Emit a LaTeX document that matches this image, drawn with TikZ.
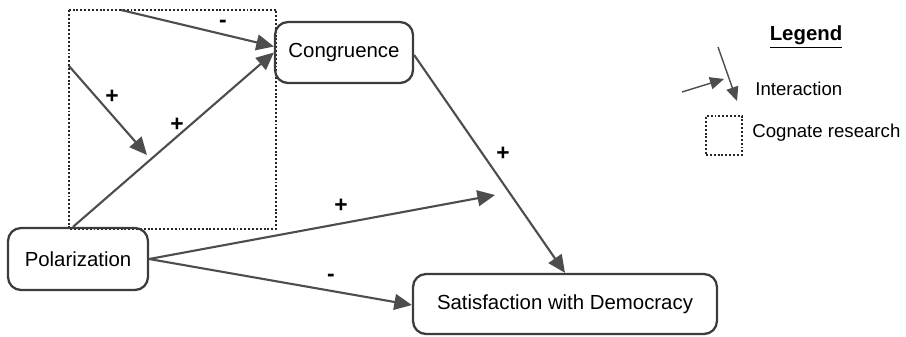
\documentclass[tikz,border=0pt]{standalone}
\usepackage{fontspec}
\setmainfont{Liberation Sans}
\usetikzlibrary{arrows.meta,positioning}
\definecolor{linegray}{HTML}{4D4D4D}
\definecolor{boxgray}{HTML}{3C3C3C}
\tikzset{
      concept/.style = { draw=boxgray, line width=1.3pt, rounded corners=2.6mm,
                         inner sep=0pt, font=\fontsize{11.6}{13}\selectfont },
         link/.style = { draw=linegray, line width=1.2pt,
                         -{Triangle[length=10pt,width=9pt]} },
     thinlink/.style = { draw=linegray, line width=0.8pt,
                         -{Triangle[length=8pt,width=7pt]} },
         sign/.style = { font=\bfseries\fontsize{13}{13}\selectfont, inner sep=0pt },
       cogbox/.style = { draw=black!85, line width=1.2pt, dash pattern=on 1.1pt off 1.1pt },
   legendtext/.style = { anchor=west, inner sep=0pt, font=\fontsize{10.6}{12}\selectfont }
}

\begin{document}
\begin{tikzpicture}[x=0.02cm, y=-0.02cm]
  \useasboundingbox (0,0) rectangle (906,336);

  % cognate research area
  \draw[cogbox] (69,10) rectangle (276,229);

  % concepts
  \node[concept, minimum width=2.76cm, minimum height=1.22cm] (cong) at(344,52.5) {Congruence};
  \node[concept, minimum width=2.80cm, minimum height=1.24cm] (pol)  at(78,259)   {Polarization};
  \node[concept, minimum width=6.08cm, minimum height=1.20cm] (sat)  at(565,304)  {Satisfaction with Democracy};

  % free ends
  \coordinate (topstart)   at (121,10);
  \coordinate (interstart) at (69,66);
  \coordinate (interend)   at (147,155);
  \coordinate (midend)     at (495,195);

  % connectors
  \draw[link] (topstart) -- ([yshift=0.12cm]cong.west);
  \draw[link] (interstart) -- (interend);
  \draw[link] ([xshift=-0.1cm]pol.north) -- (cong.west);
  \draw[link] (pol.east) -- (midend);
  \draw[link] (pol.east) -- ([yshift=-0.02cm]sat.west);
  \draw[link] ([yshift=-0.05cm]cong.east) -- (sat.north);

  % signs
  \node[sign] (s1) at(223,24)  {-};
  \node[sign] (s2) at(112,97)  {+};
  \node[sign] (s3) at(177,125) {+};
  \node[sign] (s4) at(341,206) {+};
  \node[sign] (s5) at(503,154) {+};
  \node[sign] (s6) at(331,278) {-};

  % legend
  \node[font=\bfseries\fontsize{11.6}{13}\selectfont, inner sep=0pt] (legend) at(806,37) {\underline{Legend}};
  \coordinate (lga) at (682,92);
  \coordinate (lgb) at (724,79);
  \coordinate (lgc) at (718,47);
  \coordinate (lgd) at (737,101);
  \draw[thinlink] (lga) -- (lgb);
  \draw[thinlink] (lgc) -- (lgd);
  \node[legendtext] (inter) at(755,89) {Interaction};
  \node[cogbox, minimum width=0.72cm, minimum height=0.78cm, inner sep=0pt] (cogkey) at(724,135.5) {};
  \node[legendtext] (cogtext) at(752,133) {Cognate research};
\end{tikzpicture}
\end{document}
